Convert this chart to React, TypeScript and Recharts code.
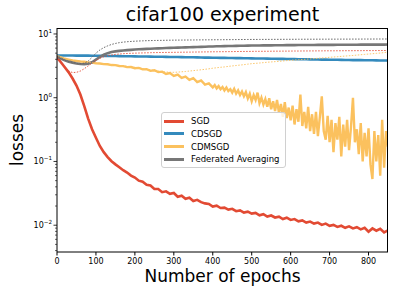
import { LineChart, Line, XAxis, YAxis } from "recharts";

const epochs = [
  0, 10, 20, 30, 40, 50, 60, 70, 80, 90, 100, 110, 120, 130, 140, 150, 160, 170, 180, 190,
  200, 210, 220, 230, 240, 250, 260, 270, 280, 290, 300, 310, 320, 330, 340, 350, 360, 370, 380, 390,
  400, 410, 420, 430, 440, 450, 460, 470, 480, 490, 500, 510, 520, 530, 540, 550, 560, 570, 580, 590,
  600, 610, 620, 630, 640, 650, 660, 670, 680, 690, 700, 710, 720, 730, 740, 750, 760, 770, 780, 790,
  800, 810, 820, 830, 840, 850,
];

const sgd = [
  4.3, 3.6, 3.0, 2.5, 2.0, 1.55, 1.12, 0.74, 0.47, 0.32, 0.235, 0.175, 0.14, 0.117, 0.101, 0.09, 0.081, 0.073, 0.067, 0.06,
  0.056, 0.05, 0.048, 0.043, 0.042, 0.037, 0.037, 0.033, 0.034, 0.031, 0.032, 0.028, 0.029, 0.026, 0.027, 0.024, 0.025, 0.023, 0.022, 0.0215,
  0.0196, 0.0202, 0.0186, 0.0189, 0.0176, 0.0181, 0.0166, 0.0171, 0.0158, 0.0163, 0.0152, 0.0156, 0.0143, 0.0149, 0.0137, 0.0142, 0.0132, 0.0136, 0.0125, 0.0131,
  0.0121, 0.0125, 0.0115, 0.0119, 0.011, 0.0114, 0.0106, 0.011, 0.0101, 0.0106, 0.0098, 0.0101, 0.0094, 0.0098, 0.0091, 0.0096, 0.0089, 0.0093, 0.0086, 0.0091,
  0.0079, 0.0089, 0.0082, 0.0088, 0.0077, 0.0083,
];

const cdsgd = [
  4.6, 4.6, 4.6, 4.59, 4.59, 4.58, 4.58, 4.57, 4.57, 4.56, 4.55, 4.54, 4.53, 4.52, 4.51, 4.5, 4.49, 4.48, 4.47, 4.46,
  4.45, 4.44, 4.43, 4.42, 4.41, 4.4, 4.39, 4.38, 4.37, 4.36, 4.35, 4.34, 4.33, 4.32, 4.31, 4.3, 4.29, 4.28, 4.26, 4.25,
  4.24, 4.23, 4.22, 4.21, 4.2, 4.19, 4.18, 4.17, 4.16, 4.15, 4.14, 4.13, 4.12, 4.11, 4.1, 4.09, 4.08, 4.07, 4.06, 4.05,
  4.04, 4.03, 4.02, 4.01, 4.0, 3.99, 3.98, 3.97, 3.96, 3.95, 3.94, 3.93, 3.93, 3.92, 3.91, 3.9, 3.89, 3.89, 3.88, 3.87,
  3.86, 3.86, 3.85, 3.84, 3.84, 3.83,
];

const fedavg = [
  4.45, 4.1, 3.85, 3.68, 3.55, 3.45, 3.38, 3.35, 3.4, 3.6, 3.95, 4.35, 4.72, 5.0, 5.2, 5.33, 5.43, 5.5, 5.57, 5.63,
  5.69, 5.74, 5.79, 5.83, 5.87, 5.91, 5.94, 5.98, 6.01, 6.04, 6.07, 6.1, 6.13, 6.16, 6.19, 6.22, 6.25, 6.28, 6.31, 6.34,
  6.37, 6.4, 6.42, 6.44, 6.46, 6.48, 6.5, 6.52, 6.54, 6.56, 6.58, 6.59, 6.6, 6.61, 6.62, 6.63, 6.64, 6.65, 6.66, 6.67,
  6.68, 6.69, 6.7, 6.7, 6.71, 6.72, 6.72, 6.73, 6.74, 6.74, 6.75, 6.75, 6.76, 6.76, 6.77, 6.77, 6.78, 6.78, 6.79, 6.79,
  6.8, 6.8, 6.8, 6.81, 6.81, 6.82,
];

// dotted companions of each run
const sgdDotted = [
  4.4, 3.6, 3.0, 2.62, 2.48, 2.5, 2.62, 2.85, 3.15, 3.5, 3.85, 4.15, 4.38, 4.55, 4.68, 4.78, 4.85, 4.9, 4.94, 4.97,
  5.0, 5.02, 5.04, 5.06, 5.08, 5.1, 5.11, 5.12, 5.13, 5.14, 5.15, 5.16, 5.17, 5.18, 5.19, 5.2, 5.21, 5.22, 5.23, 5.24,
  5.25, 5.26, 5.27, 5.27, 5.28, 5.29, 5.3, 5.31, 5.31, 5.32, 5.33, 5.34, 5.34, 5.35, 5.35, 5.36, 5.37, 5.37, 5.38, 5.38,
  5.39, 5.4, 5.4, 5.41, 5.41, 5.42, 5.42, 5.43, 5.43, 5.44, 5.44, 5.44, 5.45, 5.45, 5.46, 5.46, 5.46, 5.47, 5.47, 5.48,
  5.48, 5.48, 5.49, 5.49, 5.5, 5.5,
];

const cdmsgdDotted = [
  4.5, 4.3, 4.1, 3.95, 3.85, 3.78, 3.72, 3.66, 3.6, 3.55, 3.5, 3.45, 3.4, 3.35, 3.3, 3.25, 3.2, 3.15, 3.1, 3.04,
  2.98, 2.92, 2.86, 2.8, 2.74, 2.68, 2.62, 2.57, 2.53, 2.5, 2.5, 2.52, 2.55, 2.58, 2.62, 2.66, 2.7, 2.74, 2.79, 2.84,
  2.9, 2.95, 3.0, 3.04, 3.1, 3.15, 3.2, 3.25, 3.3, 3.36, 3.42, 3.46, 3.5, 3.55, 3.6, 3.64, 3.68, 3.72, 3.77, 3.82,
  3.86, 3.9, 3.94, 3.98, 4.02, 4.06, 4.1, 4.15, 4.2, 4.25, 4.3, 4.35, 4.4, 4.45, 4.5, 4.55, 4.6, 4.66, 4.72, 4.78,
  4.84, 4.9, 4.96, 5.02, 5.1, 5.2,
];

const fedavgDotted = [
  4.45, 4.1, 3.87, 3.7, 3.57, 3.48, 3.43, 3.48, 3.75, 4.3, 5.0, 5.6, 6.1, 6.5, 6.85, 7.1, 7.3, 7.45, 7.55, 7.63,
  7.7, 7.75, 7.8, 7.84, 7.87, 7.9, 7.92, 7.94, 7.96, 7.98, 8.0, 8.01, 8.02, 8.03, 8.04, 8.05, 8.06, 8.07, 8.08, 8.09,
  8.1, 8.11, 8.12, 8.13, 8.14, 8.15, 8.16, 8.17, 8.18, 8.19, 8.2, 8.2, 8.21, 8.21, 8.22, 8.22, 8.23, 8.23, 8.24, 8.24,
  8.25, 8.25, 8.26, 8.26, 8.27, 8.27, 8.27, 8.28, 8.28, 8.28, 8.29, 8.29, 8.29, 8.3, 8.3, 8.3, 8.31, 8.31, 8.31, 8.32,
  8.32, 8.32, 8.33, 8.33, 8.33, 8.34,
];

// CDMSGD is sampled more finely once it gets noisy (every 5 epochs from 400 on)
const cdmsgdEpochs = [
  0, 10, 20, 30, 40, 50, 60, 70, 80, 90, 100, 110, 120, 130, 140, 150, 160, 170, 180, 190,
  200, 210, 220, 230, 240, 250, 260, 270, 280, 290, 300, 310, 320, 330, 340, 350, 360, 370, 380, 390,
  400, 405, 410, 415, 420, 425, 430, 435, 440, 445, 450, 455, 460, 465, 470, 475, 480, 485, 490, 495,
  500, 505, 510, 515, 520, 525, 530, 535, 540, 545, 550, 555, 560, 565, 570, 575, 580, 585, 590, 595,
  600, 605, 610, 615, 620, 625, 630, 635, 640, 645, 650, 655, 660, 665, 670, 675, 680, 685, 690, 695,
  700, 705, 710, 715, 720, 725, 730, 735, 740, 745, 750, 755, 760, 765, 770, 775, 780, 785, 790, 795,
  800, 805, 810, 815, 820, 825, 830, 835, 840, 845, 850,
];

const cdmsgd = [
  4.5, 4.3, 4.08, 3.95, 3.83, 3.77, 3.7, 3.66, 3.58, 3.55, 3.46, 3.44, 3.36, 3.34, 3.25, 3.24, 3.14, 3.13, 3.02, 3.03,
  2.9, 2.94, 2.78, 2.8, 2.64, 2.7, 2.52, 2.56, 2.36, 2.44, 2.2, 2.3, 2.05, 2.14, 1.9, 2.02, 1.76, 1.86, 1.6, 1.68,
  1.45, 1.58, 1.4, 1.52, 1.36, 1.47, 1.3, 1.44, 1.27, 1.36, 1.2, 1.38, 1.16, 1.3, 1.1, 1.25, 1.05, 1.22, 0.97, 1.15,
  0.88, 1.1, 0.92, 1.2, 0.82, 1.0, 0.78, 0.95, 0.72, 0.98, 0.66, 0.88, 0.62, 0.92, 0.58, 0.8, 0.5, 0.85, 0.48, 0.7,
  0.44, 0.75, 0.38, 0.66, 0.42, 1.12, 0.36, 0.6, 0.33, 0.72, 0.3, 0.55, 0.27, 0.6, 0.25, 0.5, 1.05, 0.3, 0.22, 0.52,
  0.2, 0.45, 0.14, 0.4, 0.22, 0.5, 0.12, 0.38, 0.17, 0.45, 0.15, 0.35, 1.0, 0.2, 0.32, 0.13, 0.4, 0.1, 0.28, 0.12,
  0.33, 0.09, 0.053, 0.3, 0.1, 0.26, 0.06, 0.45, 0.08, 0.3, 0.17,
];

const xTicks = [0, 100, 200, 300, 400, 500, 600, 700, 800];
const yMajor = [0.01, 0.1, 1, 10];
const yExponents = ["−2", "−1", "0", "1"];
const yMinor = [
  0.004, 0.005, 0.006, 0.007, 0.008, 0.009,
  0.02, 0.03, 0.04, 0.05, 0.06, 0.07, 0.08, 0.09,
  0.2, 0.3, 0.4, 0.5, 0.6, 0.7, 0.8, 0.9,
  2, 3, 4, 5, 6, 7, 8, 9,
];

const legendItems = [
  { name: "SGD", color: "#E24A33" },
  { name: "CDSGD", color: "#348ABD" },
  { name: "CDMSGD", color: "#FBC15E" },
  { name: "Federated Averaging", color: "#777777" },
];

const rows = epochs.map((e, i) => ({
  epoch: e,
  sgd: sgd[i],
  cdsgd: cdsgd[i],
  fedavg: fedavg[i],
  sgdDotted: sgdDotted[i],
  cdmsgdDotted: cdmsgdDotted[i],
  fedavgDotted: fedavgDotted[i],
}));

const cdmsgdRows = cdmsgdEpochs.map((e, i) => ({ epoch: e, cdmsgd: cdmsgd[i] }));

const FONT = "DejaVu Sans, sans-serif";

const YTick = (props: any) => {
  const { x, y, payload } = props;
  const idx = yMajor.indexOf(payload.value);
  if (idx < 0) {
    return <line x1={x} x2={x - 2} y1={y} y2={y} stroke="#000" strokeWidth={0.6} />;
  }
  return (
    <g>
      <line x1={x} x2={x - 3.5} y1={y} y2={y} stroke="#000" strokeWidth={0.8} />
      <text x={x - 5} y={y + 3} textAnchor="end" fontSize={8} fontFamily={FONT} fill="#000">
        <tspan>10</tspan>
        <tspan dy={-4} fontSize={5.6}>{yExponents[idx]}</tspan>
      </text>
    </g>
  );
};

export default function App() {
  return (
    <div
      style={{
        position: "absolute",
        left: 0,
        top: 0,
        width: 399,
        height: 298,
        background: "#fff",
        fontFamily: FONT,
      }}
    >
      <LineChart width={399} height={298} data={rows} margin={{ top: 28, right: 11, left: 0, bottom: 0 }}>
        <XAxis
          dataKey="epoch"
          type="number"
          domain={[0, 850]}
          ticks={xTicks}
          allowDataOverflow
          height={46}
          tickSize={3.5}
          tickMargin={3}
          tick={{ fontSize: 8, fill: "#000", fontFamily: FONT }}
          axisLine={{ stroke: "#000" }}
          tickLine={{ stroke: "#000" }}
        />
        <YAxis
          type="number"
          scale="log"
          domain={[0.0038, 12.4]}
          allowDataOverflow
          ticks={[...yMinor, ...yMajor]}
          interval={0}
          width={57}
          tickSize={0}
          tickMargin={0}
          tickLine={false}
          tick={<YTick />}
          axisLine={{ stroke: "#000" }}
        />
        <Line dataKey="sgd" stroke="#E24A33" strokeWidth={2.6} dot={false} isAnimationActive={false} />
        <Line dataKey="cdsgd" stroke="#348ABD" strokeWidth={2.6} dot={false} isAnimationActive={false} />
        <Line
          data={cdmsgdRows}
          dataKey="cdmsgd"
          stroke="#FBC15E"
          strokeWidth={2.4}
          dot={false}
          isAnimationActive={false}
        />
        <Line dataKey="fedavg" stroke="#777777" strokeWidth={2.6} dot={false} isAnimationActive={false} />
        <Line dataKey="sgdDotted" stroke="#E24A33" strokeWidth={0.9} strokeDasharray="1.5 1.5" dot={false} isAnimationActive={false} />
        <Line dataKey="cdmsgdDotted" stroke="#FBC15E" strokeWidth={0.9} strokeDasharray="1.5 1.5" dot={false} isAnimationActive={false} />
        <Line dataKey="fedavgDotted" stroke="#666666" strokeWidth={1} strokeDasharray="1.5 1.5" dot={false} isAnimationActive={false} />
      </LineChart>

      {/* top and right spines */}
      <div
        style={{
          position: "absolute",
          left: 57,
          top: 28,
          width: 331,
          height: 224,
          boxSizing: "border-box",
          borderTop: "1px solid #000",
          borderRight: "1px solid #000",
          pointerEvents: "none",
        }}
      />

      <div style={{ position: "absolute", left: 57, width: 331, top: 2, textAlign: "center", fontSize: 19, lineHeight: "24px" }}>
        cifar100 experiment
      </div>
      <div style={{ position: "absolute", left: 57, width: 331, top: 264, textAlign: "center", fontSize: 17, lineHeight: "24px" }}>
        Number of epochs
      </div>
      <div
        style={{
          position: "absolute",
          left: 17,
          top: 140,
          transform: "translate(-50%, -50%) rotate(-90deg)",
          fontSize: 17,
          lineHeight: "20px",
          whiteSpace: "nowrap",
        }}
      >
        losses
      </div>

      <div
        style={{
          position: "absolute",
          left: 161,
          top: 112,
          width: 123,
          height: 54,
          border: "1px solid #d0d0d0",
          borderRadius: 3,
          background: "rgba(255,255,255,0.8)",
        }}
      >
        {legendItems.map((item, i) => (
          <div
            key={item.name}
            style={{ position: "absolute", left: 2, top: 2 + i * 12.8, height: 12, display: "flex", alignItems: "center" }}
          >
            <span style={{ width: 20, height: 3, background: item.color, display: "inline-block" }} />
            <span style={{ marginLeft: 7, fontSize: 8.5, whiteSpace: "nowrap" }}>{item.name}</span>
          </div>
        ))}
      </div>
    </div>
  );
}
